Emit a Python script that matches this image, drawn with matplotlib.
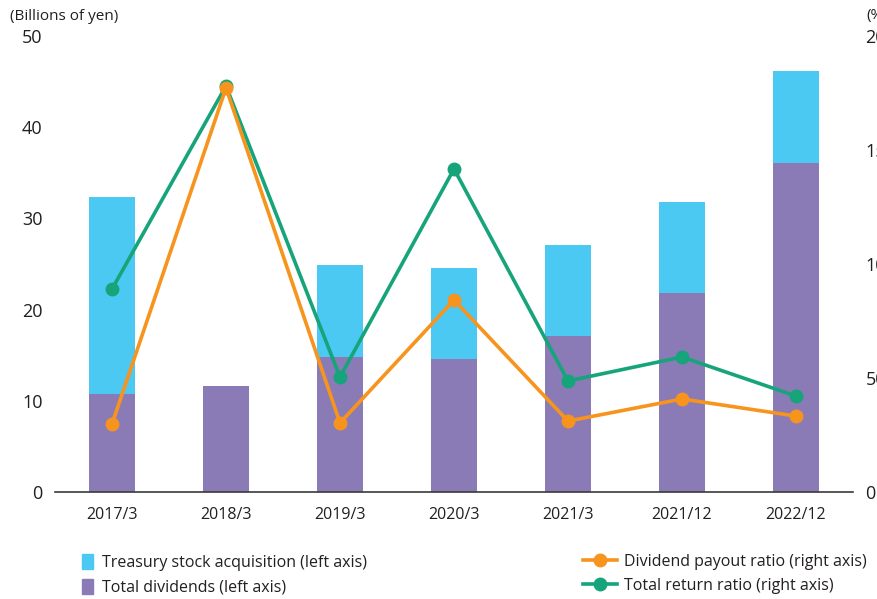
import numpy as np
import matplotlib.pyplot as plt
from matplotlib.patches import Patch
from matplotlib.lines import Line2D

plt.rcParams['font.family'] = ['Open Sans', 'DejaVu Sans']

periods = ['2017/3', '2018/3', '2019/3', '2020/3', '2021/3', '2021/12', '2022/12']
dividends = [10.7, 11.6, 14.8, 14.6, 17.1, 21.8, 36.1]
treasury = [21.7, 0.0, 10.1, 10.0, 10.0, 10.0, 10.1]
payout_ratio = [29.8, 177.2, 30.3, 84.2, 31.1, 40.8, 33.3]
total_return = [89.0, 178.1, 50.4, 141.7, 48.7, 59.2, 42.1]

c_treasury = '#4CC9F3'
c_div = '#8A7BB7'
c_payout = '#F7941D'
c_return = '#16A47B'
c_text = '#231F20'

fig = plt.figure(figsize=(8.77, 5.99), dpi=100)
ax = fig.add_axes([55 / 877, 107 / 599, 798 / 877, 456 / 599])
x = np.arange(len(periods))
w = 0.40

ax.bar(x, dividends, width=w, color=c_div, zorder=2)
ax.bar(x, treasury, width=w, bottom=dividends, color=c_treasury, zorder=2)

ax.set_xlim(-0.5, len(periods) - 0.5)
ax.set_ylim(0, 50)
ax.set_yticks(range(0, 51, 10))
ax.set_xticks(x)
ax.set_xticklabels(periods, fontsize=11.5, color=c_text)
for s in ['top', 'left', 'right']:
    ax.spines[s].set_visible(False)
ax.spines['bottom'].set_color('#3a3a3a')
ax.spines['bottom'].set_linewidth(1.2)
ax.tick_params(axis='both', length=0, colors=c_text)
ax.tick_params(axis='y', labelsize=13, pad=9)
ax.tick_params(axis='x', pad=11)

ax2 = ax.twinx()
ax2.set_ylim(0, 200)
ax2.set_yticks(range(0, 201, 50))
for s in ['top', 'left', 'right', 'bottom']:
    ax2.spines[s].set_visible(False)
ax2.tick_params(axis='y', length=0, labelsize=13, pad=9, colors=c_text)

ax2.plot(x, total_return, color=c_return, lw=2.6, marker='o', ms=9, zorder=3)
ax2.plot(x, payout_ratio, color=c_payout, lw=2.6, marker='o', ms=9, zorder=4)

fig.text(10 / 877, 1 - 16 / 599, '(Billions of yen)', fontsize=11, color=c_text, va='center')
fig.text(866 / 877, 1 - 16 / 599, '(%)', fontsize=11, color=c_text, va='center')

bar_handles = [Patch(color=c_treasury), Patch(color=c_div)]
leg1 = fig.legend(bar_handles, ['Treasury stock acquisition (left axis)', 'Total dividends (left axis)'],
                  loc='upper left', bbox_to_anchor=(82 / 877, 1 - 554 / 599), frameon=False,
                  fontsize=11.5, handlelength=0.7, handleheight=1.05, handletextpad=0.55,
                  labelspacing=0.5, borderaxespad=0, borderpad=0)
line_handles = [Line2D([], [], color=c_payout, lw=2.6, marker='o', ms=9),
                Line2D([], [], color=c_return, lw=2.6, marker='o', ms=9)]
leg2 = fig.legend(line_handles, ['Dividend payout ratio (right axis)', 'Total return ratio (right axis)'],
                  loc='upper left', bbox_to_anchor=(583 / 877, 1 - 554 / 599), frameon=False,
                  fontsize=11.5, handlelength=2.1, handletextpad=0.45,
                  labelspacing=0.5, borderaxespad=0, borderpad=0)
for leg in (leg1, leg2):
    for t in leg.get_texts():
        t.set_color(c_text)

fig.savefig('out.png', dpi=100)
